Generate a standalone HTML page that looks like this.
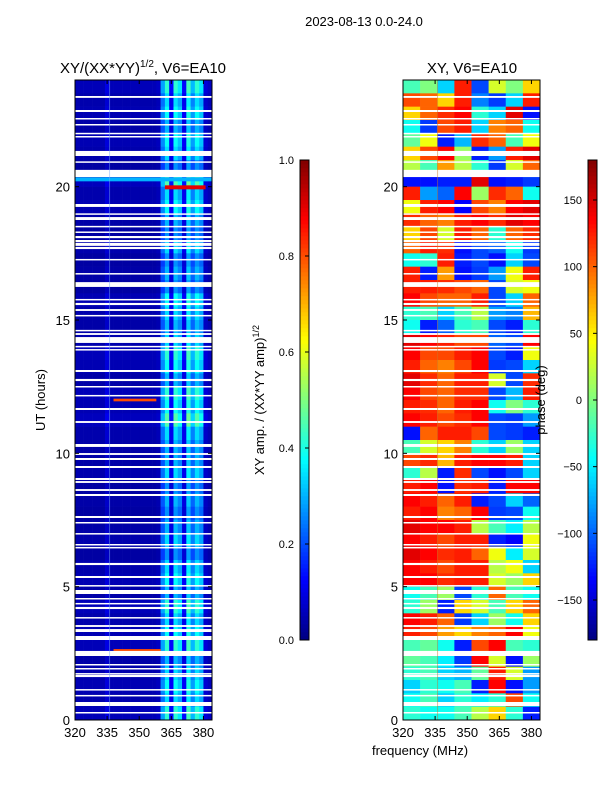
<!DOCTYPE html>
<html><head><meta charset="utf-8"><style>
html,body{margin:0;padding:0;background:#fff;}
svg{display:block;font-family:"Liberation Sans",sans-serif;}
</style></head><body>
<svg id="fig" width="600" height="800" viewBox="0 0 600 800">
<text x="364" y="26" font-size="13" text-anchor="middle">2023-08-13 0.0-24.0</text>
<text x="143" y="73" font-size="15" text-anchor="middle">XY/(XX*YY)<tspan font-size="10" dy="-6">1/2</tspan><tspan dy="6">, V6=EA10</tspan></text>
<text x="472" y="73" font-size="15" text-anchor="middle">XY, V6=EA10</text>
<text x="45" y="400" font-size="13" text-anchor="middle" transform="rotate(-90 45 400)">UT (hours)</text>
<text x="264" y="400" font-size="13" text-anchor="middle" transform="rotate(-90 264 400)">XY amp. / (XX*YY amp)<tspan font-size="9" dy="-5">1/2</tspan></text>
<text x="420" y="755" font-size="13" text-anchor="middle">frequency (MHz)</text>
<g id="ampPanel"></g>
<g id="phPanel"></g>
<g id="axes"></g>
<text x="545" y="400" font-size="13" text-anchor="middle" transform="rotate(-90 545 400)">phase (deg)</text>
</svg>
<script>
const ampSpectrum=[0.05,0.05,0.05,0.05,0.05,0.05,0.05,0.09,0.05,0.05,0.05,0.05,0.05,0.05,0.05,0.05,0.05,0.05,0.05,0.06,0.26,0.38,0.12,0.38,0.32,0.12,0.4,0.28,0.38,0.32,0.08,0.06];
const ampRowGain=[1.1,0.9,1.0,0.8,1.0,0.9,0.7,1.2,0.9,1.0,0.8,0.7,0.9,0.7,0.8,0.7,1.0,0.9,0.8,0.9,1.1,1.0,0.8,1.1,1.0,1.2,0.9,0.8,0.8,0.9,0.7,0.8,0.7,0.8,0.9,0.7,0.9,1.0,0.8,1.1,0.9,1.0,1.1,0.8,0.9,1.0,0.9,1.1];
const ampEvents=[[19.9,20.05,362,381,0.9],[20.2,20.35,320,384,0.3],[11.95,12.05,338,358,0.8],[2.58,2.66,338,360,0.8]];
const phaseRows=[
[-20,0,-60,125,-110,30,0,60],[110,100,60,125,-90,-115,-60,125],[60,100,120,135,-30,-60,145,-130],[-40,-115,110,125,-60,90,100,-40],
[-10,40,-125,-70,120,100,-20,40],[60,110,135,10,-125,-80,125,145],[20,-20,80,20,-30,-115,30,100],[-130,-130,-125,-125,145,-130,-125,-115],
[125,-80,-100,135,10,120,100,-40],[40,125,135,-135,110,90,135,145],[120,100,90,125,135,120,145,135],[60,110,30,125,100,-30,100,120],
[100,125,120,-130,-110,-100,-40,-115],[-40,-30,125,-125,-110,-130,-60,-110],[125,-125,80,-130,-115,-80,40,125],[125,125,120,110,100,-110,30,40],
[135,110,100,100,125,-110,-60,100],[-30,-20,-60,-20,20,-80,-90,70],[-40,-125,-100,-30,-20,-110,-125,-30],[145,135,125,110,110,-100,-110,135],
[135,110,110,125,135,-110,-125,40],[125,100,90,110,135,-115,-110,-60],[145,120,100,125,125,30,-110,120],[135,110,100,120,120,-110,-70,125],
[125,120,100,125,135,-40,0,-30],[135,125,110,120,135,-110,-115,-80],[-130,100,125,125,110,-110,-115,-125],[-20,30,60,90,-30,-60,10,-60],
[110,120,70,125,135,135,125,-60],[-30,20,-125,120,-110,-130,-110,-60],[125,135,-130,120,125,-125,135,135],[135,125,100,125,-125,-110,-60,-100],
[125,135,90,100,135,-115,-110,-40],[145,135,135,125,20,-20,-50,20],[135,125,110,125,125,-125,-135,40],[145,135,120,125,100,40,-50,30],
[135,125,110,125,125,20,40,-60],[135,135,120,125,125,30,10,60],[-40,-20,10,-110,-30,100,-20,-40],[-30,10,-125,60,30,-20,60,100],
[135,125,100,-115,-60,10,-40,60],[125,110,80,60,90,100,135,40],[-20,-10,-40,-125,110,135,-20,-30],[-10,-20,-50,-115,135,30,-130,10],
[-30,-20,-60,-70,-10,125,30,-80],[-60,-30,-40,-20,-125,135,-130,-80],[-40,-20,-60,-30,-50,-30,110,-40],[-30,-40,-40,-20,20,60,-30,-125]];
const gaps=[[23.33,23.4],[22.8,22.875],[22.54,22.575],[22.31,22.35],[21.98,22.02],[21.86,21.9],[21.15,21.34],[20.91,20.95],[20.36,20.63],[19.24,19.35],[18.96,19.0],[18.75,18.86],[18.49,18.53],[18.28,18.32],[18.07,18.15],[17.92,18.0],[17.78,17.89],[17.66,17.74],[17.25,17.29],[16.73,16.76],[16.24,16.42],[15.75,15.79],[15.56,15.64],[15.34,15.41],[15.15,15.19],[14.59,14.63],[14.44,14.51],[14.14,14.36],[13.99,14.03],[13.87,13.91],[13.05,13.125],[12.71,12.79],[12.49,12.525],[12.15,12.19],[11.625,11.7],[11.14,11.21],[10.24,10.35],[9.94,10.01],[9.75,9.825],[9.45,9.525],[9.0,9.075],[8.89,8.96],[8.59,8.66],[8.4,8.475],[7.575,7.65],[7.39,7.425],[6.975,7.01],[6.56,6.6],[6.45,6.49],[5.81,5.89],[5.325,5.4],[5.025,5.06],[4.725,4.875],[4.54,4.575],[4.35,4.39],[4.16,4.24],[3.825,3.86],[3.49,3.56],[3.3,3.41],[3.0,3.15],[2.4,2.59],[2.06,2.1],[1.91,1.95],[1.725,1.76],[1.61,1.69],[1.125,1.16],[0.9,0.94],[0.525,0.675],[0.26,0.3]];
const xTicks=[320,335,350,365,380];
const yTicks=[0,5,10,15,20];
const ampTicks=["0.0","0.2","0.4","0.6","0.8","1.0"];
const phTicks=[-150,-100,-50,0,50,100,150];

const NS="http://www.w3.org/2000/svg";
const PT=80,PB=720,FMIN=320,FMAX=384;
const yS=u=>PB-(u/24)*(PB-PT);
const xS=(x0,f)=>x0+(f-FMIN)/(FMAX-FMIN)*137;
function jet(v){v=Math.max(0,Math.min(1,v));
 const c=t=>Math.round(255*Math.max(0,Math.min(1,1.5-Math.abs(4*v-t))));
 return `rgb(${c(3)},${c(2)},${c(1)})`;}
function R(p,x,y,w,h,fill){const r=document.createElementNS(NS,'rect');
 r.setAttribute('x',x);r.setAttribute('y',y);r.setAttribute('width',w);r.setAttribute('height',h);r.setAttribute('fill',fill);p.appendChild(r);return r;}
function T(p,x,y,s,anchor){const t=document.createElementNS(NS,'text');
 t.setAttribute('x',x);t.setAttribute('y',y);t.setAttribute('font-size','13');t.setAttribute('text-anchor',anchor);t.textContent=s;p.appendChild(t);return t;}
const nRows=ampRowGain.length, rowH=24/nRows;
const amp=document.getElementById('ampPanel');
const bw=(FMAX-FMIN)/ampSpectrum.length;
for(let i=0;i<nRows;i++){const u1=24-i*rowH,u0=u1-rowH;
 for(let j=0;j<ampSpectrum.length;j++){
  const x=xS(75,FMIN+j*bw),x2=xS(75,FMIN+(j+1)*bw);
  const r=R(amp,x,yS(u1),x2-x+0.3,yS(u0)-yS(u1)+0.3,jet(ampSpectrum[j]*ampRowGain[i]));
  
  
 }}
ampEvents.forEach(e=>{const r=R(amp,xS(75,e[2]),yS(e[1]),xS(75,e[3])-xS(75,e[2]),yS(e[0])-yS(e[1]),jet(e[4]));
 
 });
const ph=document.getElementById('phPanel');
const pbw=(FMAX-FMIN)/phaseRows[0].length;
phaseRows.forEach((row,i)=>{const u1=24-i*rowH,u0=u1-rowH;
 row.forEach((v,j)=>{const x=xS(403,FMIN+j*pbw),x2=xS(403,FMIN+(j+1)*pbw);
  const r=R(ph,x,yS(u1),x2-x+0.3,yS(u0)-yS(u1)+0.3,jet((v+180)/360));
  
  });});
const ax=document.getElementById('axes');
[75,403].forEach((x0,k)=>{
 gaps.forEach(g=>{const r=R(ax,x0,yS(g[1]),137,Math.max(1.5,yS(g[0])-yS(g[1])),'#fff');
  
  });
 const vl=R(ax,xS(x0,336),PT,0.8,PB-PT,k?'rgba(200,120,40,0.6)':'rgba(120,170,255,0.6)');
 
 
 const fr=R(ax,x0,PT,137,PB-PT,'none');fr.setAttribute('stroke','#000');fr.setAttribute('stroke-width','1');
 
 
 xTicks.forEach(f=>{const x=xS(x0,f);R(ax,x-0.5,PB-4,1,4,'#000');R(ax,x-0.5,PT,1,4,'#000');
  const t=T(ax,x,737,String(f),'middle');
  
  });
 yTicks.forEach(u=>{const y=yS(u);R(ax,x0,y-0.5,4,1,'#000');R(ax,x0+133,y-0.5,4,1,'#000');
  const t=T(ax,x0-5,y+5,String(u),'end');
  
  });
});
[[300,'amp'],[588,'phase']].forEach(([cx,nm])=>{
 for(let i=0;i<120;i++){const r=R(ax,cx,640-(i+1)*4,9,4.3,jet((i+0.5)/120));
  
  }
 const f=R(ax,cx,160,9,480,'none');f.setAttribute('stroke','#000');
 
 });
ampTicks.forEach((s,i)=>{const y=640-i*96;R(ax,305,y-0.5,4,1,'#000');
 const t=T(ax,294,y+4,s,'end');t.setAttribute('font-size','11');
 
 });
phTicks.forEach(v=>{const y=640-(v+180)/360*480;R(ax,593,y-0.5,4,1,'#000');
 const t=T(ax,582,y+4,(v<0?'\u2212'+(-v):String(v)),'end');t.setAttribute('font-size','11');
 
 });
</script>
</body></html>
